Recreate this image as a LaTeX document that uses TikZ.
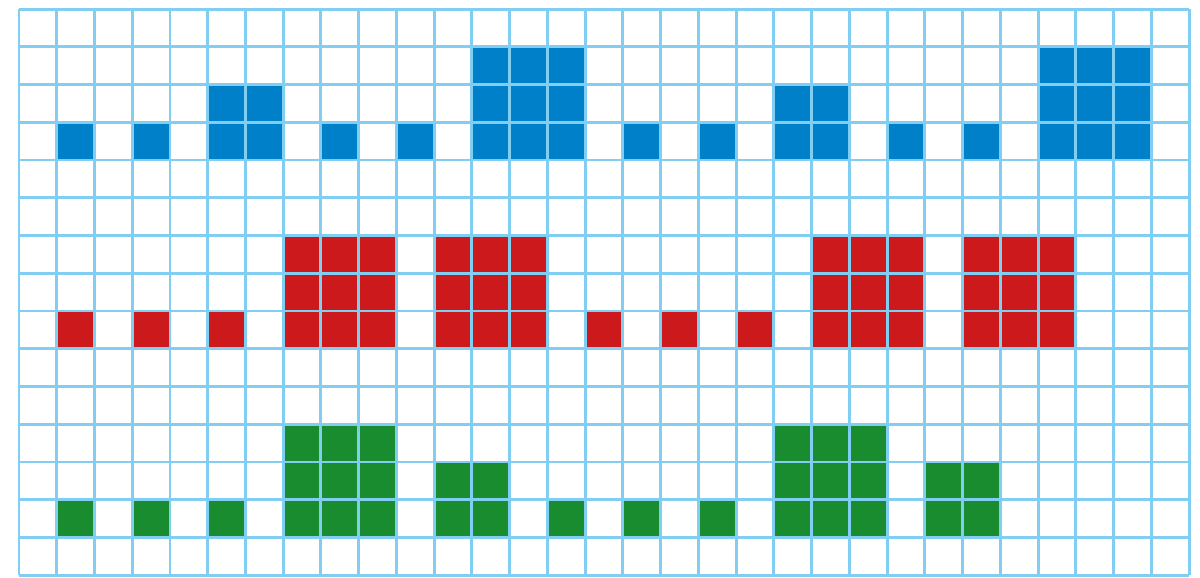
\documentclass[tikz,border=0pt]{standalone}
\definecolor{gridblue}{RGB}{128,206,242}
\definecolor{sqblue}{RGB}{0,128,200}
\definecolor{sqred}{RGB}{204,26,28}
\definecolor{sqgreen}{RGB}{26,140,48}
\tikzset{
  gridline/.style={draw=gridblue,line width=2.2pt},
  tile/.style={fill=#1}
}
\newcommand{\tilesq}[4]{\fill[tile=#1] (#2,#4) rectangle ++(#3,#3);}
\begin{document}
\begin{tikzpicture}[x=1cm,y=1cm]
\useasboundingbox (-0.503,-0.05) rectangle (31.29,15.24);
% blue row (base y=11)
\foreach \c/\s in {1/1,3/1,5/2,8/1,10/1,12/3,16/1,18/1,20/2,23/1,25/1,27/3}{\tilesq{sqblue}{\c}{\s}{11}}
% red row (base y=6)
\foreach \c/\s in {1/1,3/1,5/1,7/3,11/3,15/1,17/1,19/1,21/3,25/3}{\tilesq{sqred}{\c}{\s}{6}}
% green row (base y=1)
\foreach \c/\s in {1/1,3/1,5/1,7/3,11/2,14/1,16/1,18/1,20/3,24/2}{\tilesq{sqgreen}{\c}{\s}{1}}
% grid
\draw[gridline] (0,0) grid (31,15);
\end{tikzpicture}
\end{document}
